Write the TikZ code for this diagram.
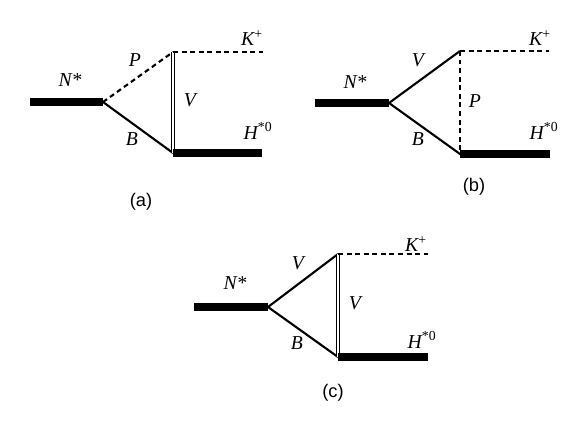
\documentclass[tikz,border=0pt]{standalone}
\usepackage{fontspec}
\setmainfont{Liberation Serif}
\setsansfont{Liberation Sans}
\newcommand{\sups}[1]{\textsuperscript{\upshape #1}}
\begin{document}
\begin{tikzpicture}[
      x=0.025cm, y=-0.025cm,
      heavy/.style={line width=5pt},
      fermion/.style={line width=1.5pt},
      scalar/.style={line width=1.5pt, dash pattern=on 3.5pt off 2.6pt},
      vector/.style={double, line width=1pt, double distance=1.4pt},
      lbl/.style={font=\itshape\fontsize{14}{16}\selectfont, inner sep=0pt},
      panel/.style={font=\sffamily\fontsize{13}{15}\selectfont, inner sep=0pt}
    ]
      \useasboundingbox (0,0) rectangle (582,420);
      % (a)
      \coordinate (a-in) at (30,102);
      \coordinate (a-v) at (103,102);
      \coordinate (a-t) at (173,52);
      \coordinate (a-b) at (173,153);
      \coordinate (a-k) at (263,52);
      \coordinate (a-h) at (262,153);
      \draw[heavy] (a-in) -- (a-v);
      \draw[scalar] (a-v) -- (a-t);
      \draw[fermion] (a-v) -- (a-b);
      \draw[vector] (a-t) -- (a-b);
      \draw[scalar] (a-t) -- (a-k);
      \draw[heavy] (a-b) -- (a-h);
      \node[lbl] (a-n) at (70,80) {N*};
      \node[lbl] (a-p) at (135,60) {P};
      \node[lbl] (a-bl) at (132,139) {B};
      \node[lbl] (a-vl) at (190,100) {V};
      \node[lbl] (a-kl) at (252,38) {K\sups{+}};
      \node[lbl] (a-hl) at (258,131) {H\sups{*0}};
      \node[panel] (a-cap) at (141,202) {(a)};
      % (b)
      \coordinate (b-in) at (315,103);
      \coordinate (b-v) at (389,103);
      \coordinate (b-t) at (460,51);
      \coordinate (b-b) at (460,154);
      \coordinate (b-k) at (549,51);
      \coordinate (b-h) at (550,154);
      \draw[heavy] (b-in) -- (b-v);
      \draw[fermion] (b-v) -- (b-t);
      \draw[fermion] (b-v) -- (b-b);
      \draw[scalar] (b-t) -- (b-b);
      \draw[scalar] (b-t) -- (b-k);
      \draw[heavy] (b-b) -- (b-h);
      \node[lbl] (b-n) at (355,82) {N*};
      \node[lbl] (b-vl) at (418,60) {V};
      \node[lbl] (b-bl) at (418,139) {B};
      \node[lbl] (b-p) at (475,101) {P};
      \node[lbl] (b-kl) at (540,38) {K\sups{+}};
      \node[lbl] (b-hl) at (544,131) {H\sups{*0}};
      \node[panel] (b-cap) at (474,187) {(b)};
      % (c)
      \coordinate (c-in) at (194,307);
      \coordinate (c-v) at (268,307);
      \coordinate (c-t) at (338,254);
      \coordinate (c-b) at (338,357);
      \coordinate (c-k) at (428,254);
      \coordinate (c-h) at (428,357);
      \draw[heavy] (c-in) -- (c-v);
      \draw[fermion] (c-v) -- (c-t);
      \draw[fermion] (c-v) -- (c-b);
      \draw[vector] (c-t) -- (c-b);
      \draw[scalar] (c-t) -- (c-k);
      \draw[heavy] (c-b) -- (c-h);
      \node[lbl] (c-n) at (235,283) {N*};
      \node[lbl] (c-vt) at (298,263) {V};
      \node[lbl] (c-bl) at (297,343) {B};
      \node[lbl] (c-vr) at (355,303) {V};
      \node[lbl] (c-kl) at (416,244) {K\sups{+}};
      \node[lbl] (c-hl) at (422,340) {H\sups{*0}};
      \node[panel] (c-cap) at (333,393) {(c)};
    \end{tikzpicture}
\end{document}
